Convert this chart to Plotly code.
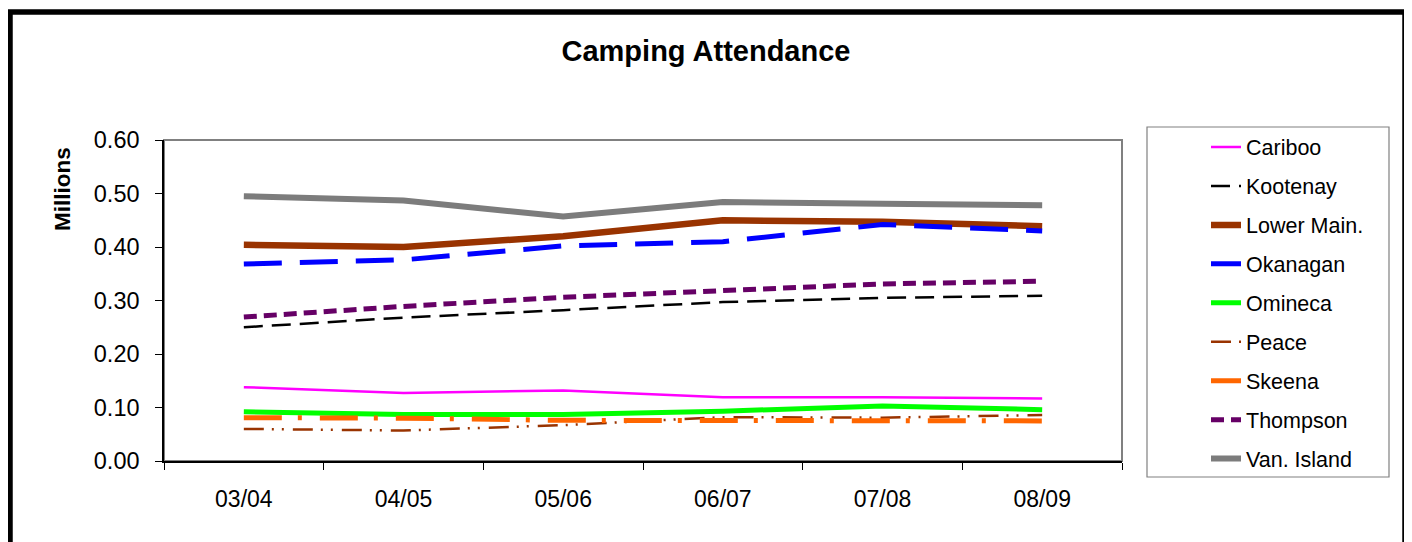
import plotly.graph_objects as go

categories = ["03/04", "04/05", "05/06", "06/07", "07/08", "08/09"]
cariboo = [0.138, 0.127, 0.132, 0.119, 0.119, 0.117]
kootenay = [0.250, 0.268, 0.282, 0.297, 0.305, 0.309]
lower_main = [0.404, 0.400, 0.420, 0.450, 0.447, 0.439]
okanagan = [0.368, 0.376, 0.402, 0.410, 0.442, 0.430]
omineca = [0.092, 0.087, 0.087, 0.093, 0.103, 0.096]
peace = [0.060, 0.057, 0.067, 0.082, 0.081, 0.086]
skeena = [0.081, 0.080, 0.076, 0.075, 0.075, 0.075]
thompson = [0.269, 0.289, 0.306, 0.319, 0.331, 0.336]
van_island = [0.495, 0.487, 0.457, 0.484, 0.481, 0.478]

y_ticks = [0.0, 0.1, 0.2, 0.3, 0.4, 0.5, 0.6]

series = [
    ("Cariboo", cariboo, "#FF00FF", 2.5, "solid"),
    ("Kootenay", kootenay, "#000000", 2.5, "19px,9px"),
    ("Lower Main.", lower_main, "#993300", 6.5, "solid"),
    ("Okanagan", okanagan, "#0000FF", 5, "38px,18px"),
    ("Omineca", omineca, "#00FF00", 5, "solid"),
    ("Peace", peace, "#993300", 2.5, "20px,8px,2px,8px,2px,9px"),
    ("Skeena", skeena, "#FF6600", 5, "38px,16px,4px,18px"),
    ("Thompson", thompson, "#660066", 5, "13px,7px"),
    ("Van. Island", van_island, "#7c7c7c", 6, "solid"),
]

FONT = "Liberation Sans, Arial, sans-serif"

fig = go.Figure()
for name, vals, color, width, dash in series:
    fig.add_trace(go.Scatter(
        x=categories, y=vals, name=name, mode="lines",
        legendgroup=name,
        line=dict(color=color, width=width, dash=dash),
    ))

# page body has an 8px margin; work in reference-screen coordinates
OFF = 8
W, H = 1412 - OFF, 542 - OFF
L, R, T, B = 164 - OFF, 1122 - OFF, 140 - OFF, 461 - OFF
pw, ph = R - L, B - T

def px(x):
    return (x - OFF - L) / pw

def py(y):
    return (B - (y - OFF)) / ph

fig.update_layout(
    width=W, height=H,
    margin=dict(l=L, r=W - R, t=T, b=H - B),
    paper_bgcolor="white", plot_bgcolor="white",
    font=dict(family=FONT, size=23, color="black"),
    title=dict(text="<b>Camping Attendance</b>", x=(706 - OFF) / W, xref="container",
               y=1 - (51 - OFF) / H, yref="container", yanchor="middle", xanchor="center",
               font=dict(family=FONT, size=29, color="black")),
    showlegend=True,
    legend=dict(
        x=px(1206), y=py(126.5), xanchor="left", yanchor="top",
        bgcolor="rgba(0,0,0,0)", borderwidth=0, maxheight=460,
        font=dict(family=FONT, size=21.5, color="black"),
        traceorder="grouped", tracegroupgap=8,
    ),
    xaxis=dict(
        type="category", range=[-0.5, 5.5], showgrid=False,
        showline=True, linecolor="black", linewidth=1.5,
        ticks="outside", ticklen=7, tickcolor="black", tickson="boundaries",
        ticklabelstandoff=17, tickfont=dict(family=FONT, size=23),
        zeroline=False,
    ),
    yaxis=dict(
        range=[0, 0.6], tickvals=y_ticks, tickformat=".2f", showgrid=False,
        showline=True, linecolor="black", linewidth=1.5,
        ticks="outside", ticklen=7, tickcolor="black",
        ticklabelstandoff=11, tickfont=dict(family=FONT, size=23.5),
        zeroline=False,
    ),
    annotations=[dict(
        text="<b>Millions</b>", x=px(62), y=py(189), xref="paper", yref="paper",
        textangle=-90, showarrow=False, font=dict(family=FONT, size=22.5, color="black"),
        xanchor="center", yanchor="middle",
    )],
    shapes=[
        # plot area border
        dict(type="rect", xref="paper", yref="paper", x0=0, x1=1, y0=0, y1=1,
             line=dict(color="#808080", width=2), layer="below"),
        # legend box
        dict(type="rect", xref="paper", yref="paper",
             x0=px(1147), x1=px(1389), y0=py(477), y1=py(127),
             line=dict(color="#808080", width=1.2), layer="below"),
        # outer chart frame
        dict(type="rect", xref="paper", yref="paper",
             x0=px(10), x1=px(1405), y0=py(580), y1=py(12),
             line=dict(color="black", width=5.5), layer="below"),
    ],
)

fig.write_html("out.html")
